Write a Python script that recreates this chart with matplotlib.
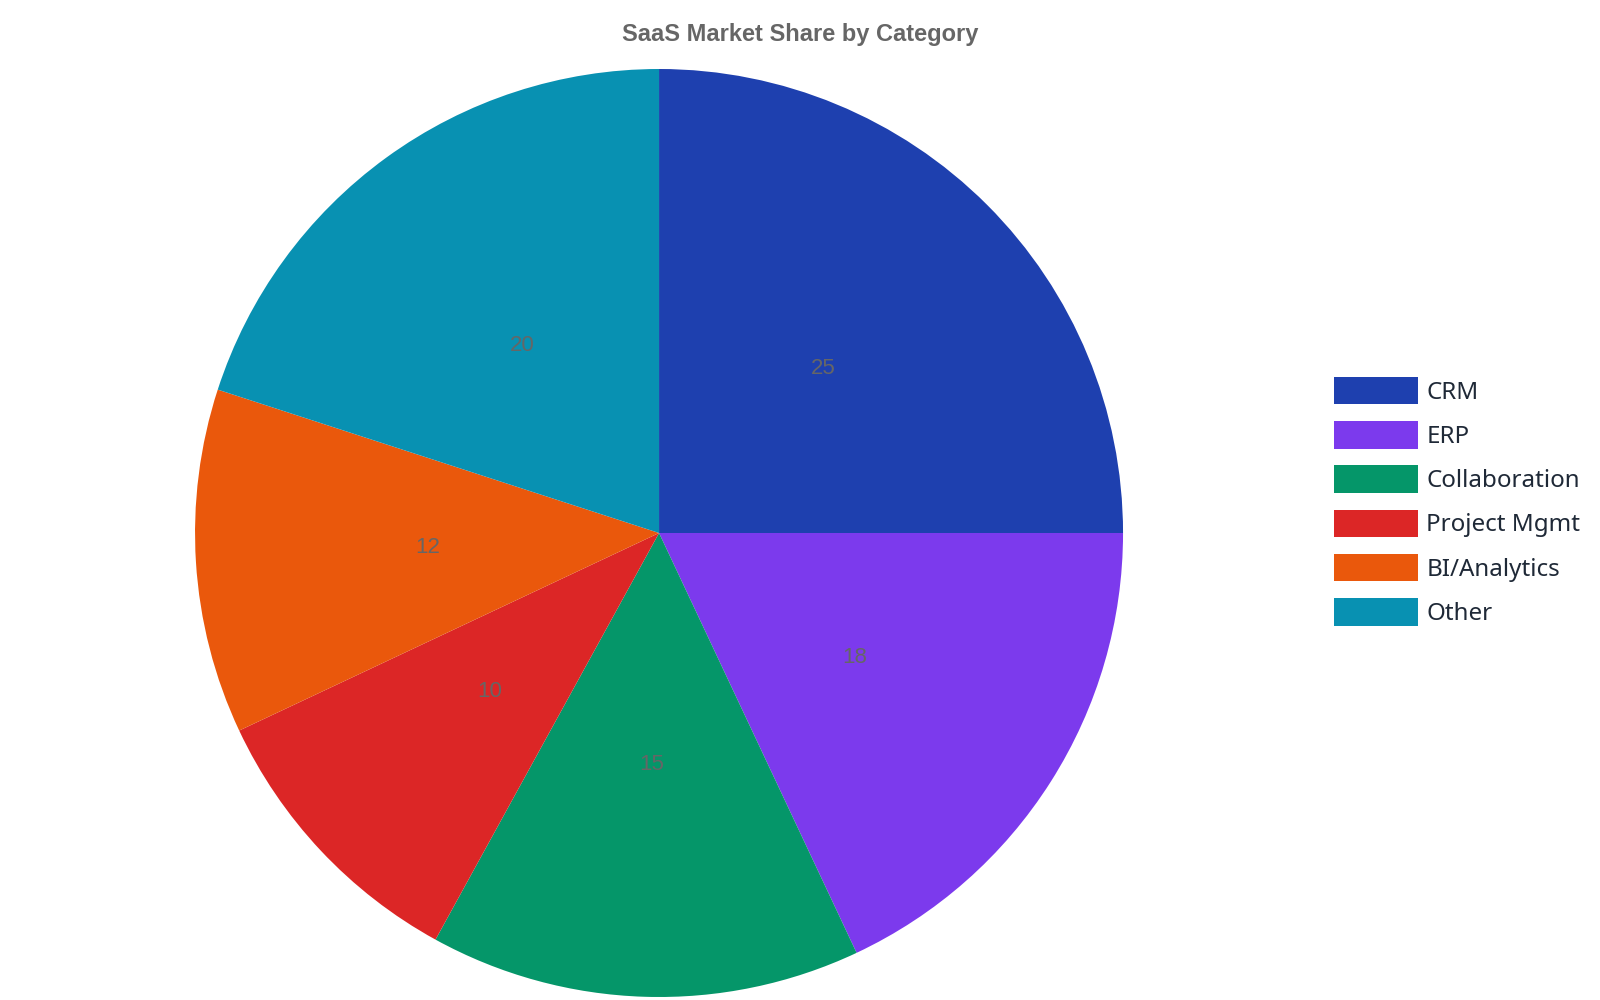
import matplotlib
matplotlib.use("Agg")
import matplotlib.pyplot as plt

categories = ["CRM", "ERP", "Collaboration", "Project Mgmt", "BI/Analytics", "Other"]
shares = [25, 18, 15, 10, 12, 20]
colors = ["#1e40af", "#7c3aed", "#059669", "#dc2626", "#ea580c", "#0891b2"]

total = sum(shares)

fig = plt.figure(figsize=(16, 10), dpi=100)
ax = fig.add_axes([0.1219, 0.003, 0.58, 0.928])

wedges, texts, autotexts = ax.pie(
    shares,
    colors=colors,
    startangle=90,
    counterclock=False,
    autopct=lambda p: "{:.0f}".format(p * total / 100),
    pctdistance=0.5,
    wedgeprops=dict(linewidth=0),
    textprops=dict(color="#666666", fontsize=16, family="Liberation Sans"),
)
ax.set_xlim(-1, 1)
ax.set_ylim(-1, 1)
ax.set_aspect("equal")

fig.text(0.5, 0.966, "SaaS Market Share by Category", ha="center", va="center",
         fontsize=17, fontweight="bold", color="#666666", family="Liberation Sans")

leg = fig.legend(
    wedges, categories,
    loc="upper left",
    bbox_to_anchor=(0.828, 0.633),
    frameon=False,
    handlelength=3.45,
    handleheight=1.38,
    handletextpad=0.35,
    labelspacing=0.68,
    borderaxespad=0,
    prop=dict(family="Noto Sans", size=17.4),
)
for t in leg.get_texts():
    t.set_color("#1f2937")

fig.savefig("out.png", dpi=100)
